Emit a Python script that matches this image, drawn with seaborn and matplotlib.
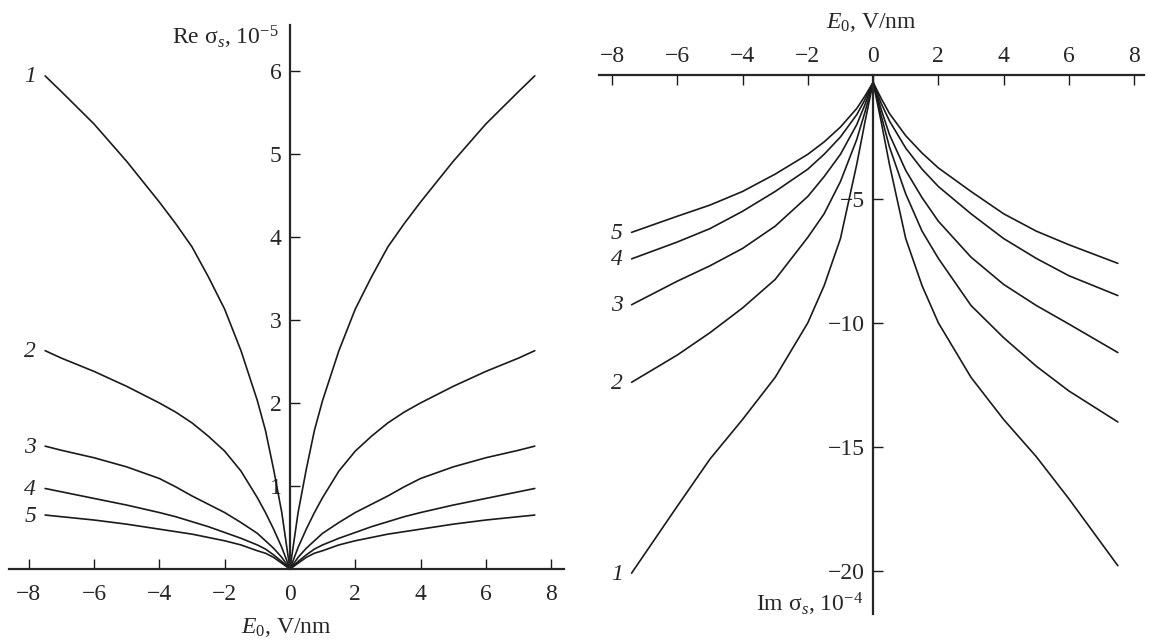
import matplotlib
matplotlib.use("Agg")
import matplotlib.pyplot as plt
import seaborn as sns

# left panel: Re sigma_s (x 1e-5) vs E0
e_re = [-7.5, -7, -6, -5, -4, -3.5, -3, -2.5, -2, -1.5, -1, -0.75, -0.5, -0.25, 0,
        0.25, 0.5, 0.75, 1, 1.5, 2, 2.5, 3, 3.5, 4, 5, 6, 7, 7.5]
re_1 = [5.94, 5.75, 5.36, 4.91, 4.42, 4.16, 3.88, 3.52, 3.13, 2.63, 2.03, 1.67, 1.2, 0.68, 0,
        0.68, 1.2, 1.67, 2.03, 2.63, 3.13, 3.52, 3.88, 4.16, 4.42, 4.91, 5.36, 5.75, 5.94]
re_2 = [2.63, 2.54, 2.38, 2.2, 2.0, 1.89, 1.76, 1.6, 1.42, 1.18, 0.86, 0.68, 0.48, 0.26, 0,
        0.26, 0.48, 0.68, 0.86, 1.18, 1.42, 1.6, 1.76, 1.89, 2.0, 2.2, 2.38, 2.54, 2.63]
re_3 = [1.48, 1.43, 1.34, 1.23, 1.09, 0.99, 0.88, 0.78, 0.68, 0.56, 0.43, 0.34, 0.25, 0.14, 0,
        0.14, 0.25, 0.34, 0.43, 0.56, 0.68, 0.78, 0.88, 0.99, 1.09, 1.23, 1.34, 1.43, 1.48]
re_4 = [0.97, 0.93, 0.85, 0.77, 0.68, 0.63, 0.57, 0.51, 0.44, 0.37, 0.29, 0.24, 0.17, 0.09, 0,
        0.09, 0.17, 0.24, 0.29, 0.37, 0.44, 0.51, 0.57, 0.63, 0.68, 0.77, 0.85, 0.93, 0.97]
re_5 = [0.65, 0.63, 0.59, 0.54, 0.48, 0.45, 0.42, 0.38, 0.34, 0.29, 0.22, 0.19, 0.14, 0.07, 0,
        0.07, 0.14, 0.19, 0.22, 0.29, 0.34, 0.38, 0.42, 0.45, 0.48, 0.54, 0.59, 0.63, 0.65]

# right panel: Im sigma_s (x 1e-4) vs E0
e_im = [-7.4, -6, -5, -4, -3, -2, -1.5, -1, -0.5, -0.25, 0,
        0.25, 0.5, 1, 1.5, 2, 3, 4, 5, 6, 7.5]
im_1 = [-20.1, -17.4, -15.5, -13.9, -12.2, -10.0, -8.5, -6.6, -3.6, -1.9, -0.3,
        -1.9, -3.6, -6.6, -8.5, -10.0, -12.2, -13.9, -15.4, -17.1, -19.8]
im_2 = [-12.4, -11.3, -10.4, -9.4, -8.25, -6.55, -5.6, -4.3, -2.6, -1.5, -0.3,
        -1.65, -2.9, -4.8, -6.3, -7.4, -9.3, -10.6, -11.75, -12.75, -14.0]
im_3 = [-9.27, -8.32, -7.7, -7.0, -6.1, -4.9, -4.1, -3.2, -2.0, -1.2, -0.3,
        -1.4, -2.4, -3.85, -4.95, -5.9, -7.35, -8.45, -9.3, -10.05, -11.2]
im_4 = [-7.42, -6.74, -6.2, -5.5, -4.7, -3.8, -3.2, -2.5, -1.6, -1.0, -0.3,
        -1.15, -1.85, -2.95, -3.8, -4.5, -5.6, -6.6, -7.4, -8.1, -8.9]
im_5 = [-6.35, -5.7, -5.25, -4.7, -4.0, -3.2, -2.7, -2.1, -1.35, -0.85, -0.3,
        -0.95, -1.55, -2.45, -3.15, -3.75, -4.7, -5.6, -6.3, -6.85, -7.6]

curve_names = ["1", "2", "3", "4", "5"]
x_ticks = [-8, -6, -4, -2, 0, 2, 4, 6, 8]
re_ticks = [1, 2, 3, 4, 5, 6]
im_ticks = [-5, -10, -15, -20]

sns.set_style("ticks")
plt.rcParams["font.family"] = "serif"
plt.rcParams["font.serif"] = ["Liberation Serif", "DejaVu Serif"]
plt.rcParams["mathtext.fontset"] = "custom"
plt.rcParams["mathtext.rm"] = "Liberation Serif"
plt.rcParams["mathtext.it"] = "Liberation Serif:italic"
plt.rcParams["axes.unicode_minus"] = True

fig = plt.figure(figsize=(11.49, 6.42), dpi=100)
ax1 = fig.add_axes([0.008, 0.1137, 0.483, 0.847])
ax2 = fig.add_axes([0.5213, 0.0436, 0.4743, 0.8396])

line_kw = dict(color="#1a1a1a", linewidth=1.2, sort=False, estimator=None, legend=False)

# ---- left panel
for name, vals in zip(curve_names, [re_1, re_2, re_3, re_4, re_5]):
    sns.lineplot(x=e_re, y=vals, ax=ax1, **line_kw)
    ax1.annotate(name, xy=(e_re[0], vals[0]), xytext=(-9, -1), textcoords="offset pixels",
                 ha="right", va="center", fontsize=17, style="italic")

ax1.set_xlim(-8.6, 8.4)
ax1.set_ylim(0, 6.55)
ax1.spines["left"].set_position(("data", 0))
ax1.spines["right"].set_visible(False)
ax1.spines["top"].set_visible(False)
for s in ["left", "bottom"]:
    ax1.spines[s].set_linewidth(1.6)
ax1.set_xticks(x_ticks)
ax1.set_yticks(re_ticks)
ax1.tick_params(axis="both", direction="in", length=7, width=1.0, labelsize=17, color="#1a1a1a")
ax1.tick_params(axis="x", pad=11)
ax1.tick_params(axis="y", pad=6)
ax1.set_xlabel(r"$E_0$, V/nm", fontsize=17, labelpad=8)
ax1.set_ylabel("")
ax1.text(-0.35, 6.4, r"Re σ${}_s$, 10${}^{-5}$", ha="right", va="center", fontsize=17)

# ---- right panel
for name, vals in zip(curve_names, [im_1, im_2, im_3, im_4, im_5]):
    sns.lineplot(x=e_im, y=vals, ax=ax2, **line_kw)
    ax2.annotate(name, xy=(e_im[0], vals[0]), xytext=(-9, -1), textcoords="offset pixels",
                 ha="right", va="center", fontsize=17, style="italic")

ax2.set_xlim(-8.4, 8.3)
ax2.set_ylim(-21.75, 0)
ax2.spines["left"].set_position(("data", 0))
ax2.spines["right"].set_visible(False)
ax2.spines["bottom"].set_visible(False)
for s in ["left", "top"]:
    ax2.spines[s].set_linewidth(1.6)
ax2.xaxis.tick_top()
ax2.xaxis.set_label_position("top")
ax2.set_xticks(x_ticks)
ax2.set_yticks(im_ticks)
ax2.tick_params(axis="both", direction="in", length=7, width=1.0, labelsize=17, color="#1a1a1a")
ax2.tick_params(axis="x", pad=6)
ax2.tick_params(axis="y", pad=6)
ax2.set_xlabel(r"$E_0$, V/nm", fontsize=17, labelpad=13)
ax2.set_ylabel("")
ax2.text(-0.3, -21.35, r"Im σ${}_s$, 10${}^{-4}$", ha="right", va="center", fontsize=17)

fig.savefig("out.png", dpi=100)
